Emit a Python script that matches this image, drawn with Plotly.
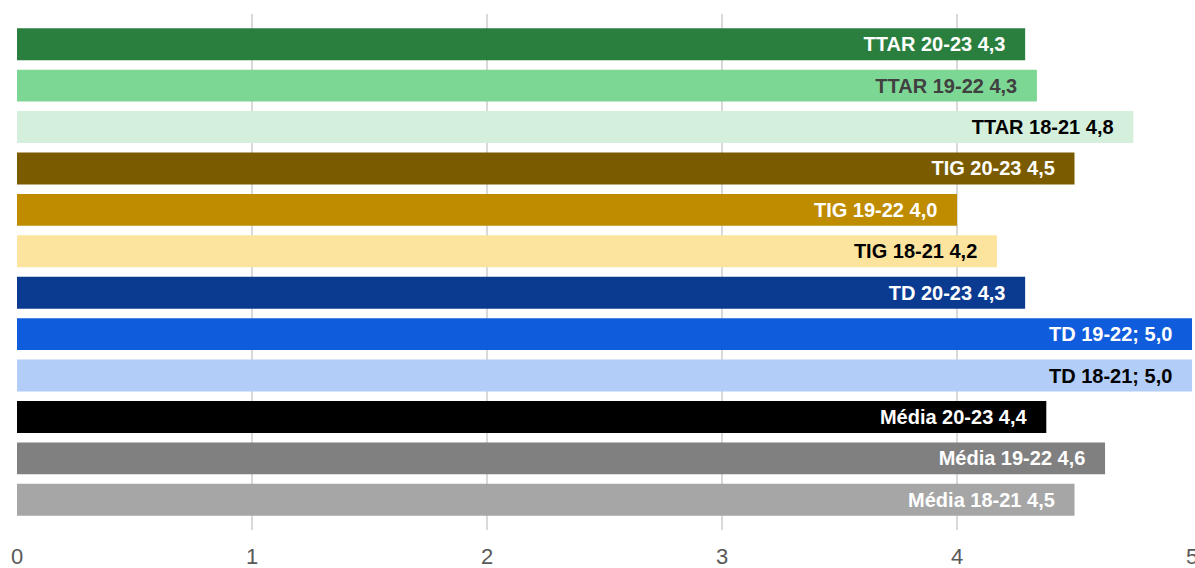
import plotly.graph_objects as go

categories = ["TTAR 20-23", "TTAR 19-22", "TTAR 18-21",
              "TIG 20-23", "TIG 19-22", "TIG 18-21",
              "TD 20-23", "TD 19-22", "TD 18-21",
              "Média 20-23", "Média 19-22", "Média 18-21"]
values = [4.29, 4.34, 4.75, 4.50, 4.00, 4.17, 4.29, 5.0, 5.0, 4.38, 4.63, 4.50]
labels = ["TTAR 20-23 4,3", "TTAR 19-22 4,3", "TTAR 18-21 4,8",
          "TIG 20-23 4,5", "TIG 19-22 4,0", "TIG 18-21 4,2",
          "TD 20-23 4,3", "TD 19-22; 5,0", "TD 18-21; 5,0",
          "Média 20-23 4,4", "Média 19-22 4,6", "Média 18-21 4,5"]
bar_colors = ["#2A7F3F", "#7DD794", "#D4F0DC",
              "#7A5B00", "#BF8C00", "#FCE49E",
              "#0B3B91", "#0F5CDC", "#B2CDF7",
              "#000000", "#808080", "#A6A6A6"]
text_colors = ["#FFFFFF", "#404040", "#000000",
               "#FFFFFF", "#FFFFFF", "#000000",
               "#FFFFFF", "#FFFFFF", "#000000",
               "#FFFFFF", "#FFFFFF", "#FFFFFF"]
x_ticks = [0, 1, 2, 3, 4, 5]

pad = "\u00a0\u00a0\u00a0"
fig = go.Figure(go.Bar(
    y=categories, x=values, orientation="h",
    marker=dict(color=bar_colors, line=dict(width=0)),
    text=[t + pad for t in labels],
    textposition="inside", insidetextanchor="end",
    textfont=dict(family="Liberation Sans Narrow, Arial Narrow, Liberation Sans, sans-serif",
                  size=20, color=text_colors, weight="bold"),
    constraintext="none",
    hoverinfo="skip",
))

fig.update_layout(
    width=1195, height=568,
    margin=dict(l=17, r=3, t=14, b=38),
    plot_bgcolor="white", paper_bgcolor="white",
    bargap=0.23, showlegend=False,
    font=dict(family="Liberation Sans, Arial, sans-serif"),
)
fig.update_xaxes(range=[0, 5], tickvals=x_ticks, showgrid=True,
                 gridcolor="#D9D9D9", gridwidth=2, zeroline=False,
                 showline=False, ticks="", automargin=False,
                 tickfont=dict(size=22, color="#595959"),
                 ticklabelstandoff=11, ticklabeloverflow="allow")
fig.update_yaxes(autorange=False, range=[11.73, -0.73], showticklabels=False,
                 showgrid=False, zeroline=False, showline=False, automargin=False,
                 categoryorder="array", categoryarray=categories)

fig.write_html("out.html", config={"displayModeBar": False},
               post_script="document.body.style.margin='0';document.body.style.overflow='hidden';")
